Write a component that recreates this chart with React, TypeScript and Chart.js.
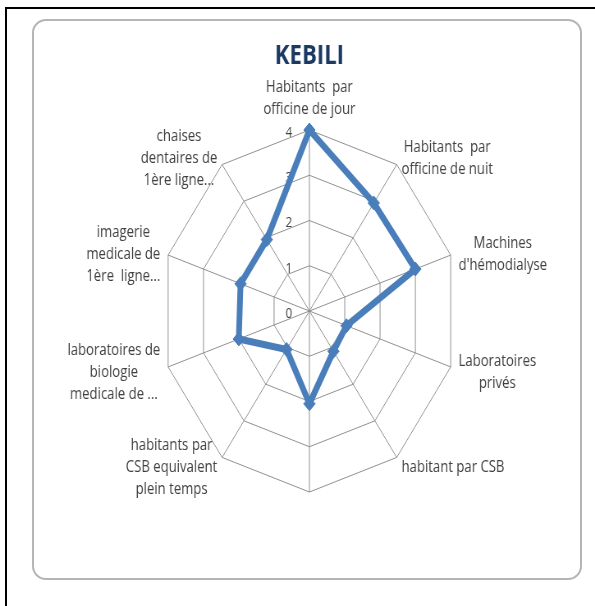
import React, { useEffect, useRef } from "react";
import { Chart, registerables } from "chart.js";
Chart.register(...registerables);

const categories: (string | string[])[] = [
  ["Habitants  par", "officine de jour"],
  ["Habitants  par", "officine de nuit"],
  ["Machines", "d'hémodialyse"],
  ["Laboratoires", "privés"],
  "habitant par CSB",
  "",
  ["habitants par", "CSB equivalent", "plein temps"],
  ["laboratoires de", "biologie", "medicale de ..."],
  ["imagerie", "medicale de", "1ère  ligne..."],
  ["chaises", "dentaires de", "1ère ligne..."],
];
const values: number[] = [4, 2.95, 3.0, 1.05, 1.1, 2.05, 1.05, 2.0, 1.95, 1.95];
const tickValues: number[] = [0, 1, 2, 3, 4];
const title = "KEBILI";

const FONT = "'Open Sans', sans-serif";
const SX = 0.8207; // horizontal squeeze of the reference picture
const W = 725;
const H = 606;
const LABEL_SIZE = 16;
const LINE_H = 22;

const tickLabelPlugin = {
  id: "tickLabelPlugin",
  beforeDatasetsDraw(chart: any) {
    const s = chart.scales.r;
    const ctx = chart.ctx;
    ctx.save();
    ctx.font = `14px ${FONT}`;
    ctx.fillStyle = "#404040";
    ctx.textAlign = "center";
    ctx.textBaseline = "middle";
    tickValues.forEach((v) => {
      const d = s.getDistanceFromCenterForValue(v);
      ctx.fillText(String(v), s.xCenter - 25, s.yCenter - d + 3);
    });
    ctx.restore();
  },
};

const pointLabelPlugin = {
  id: "pointLabelPlugin",
  afterDatasetsDraw(chart: any) {
    const s = chart.scales.r;
    const ctx = chart.ctx;
    ctx.save();
    ctx.font = `${LABEL_SIZE}px ${FONT}`;
    ctx.fillStyle = "#404040";
    ctx.textBaseline = "middle";
    ctx.textAlign = "center";
    const n = categories.length;
    categories.forEach((lab, i) => {
      const lines = Array.isArray(lab) ? lab : [lab];
      if (!lines.join("")) return;
      const p = s.getPointPosition(i, s.drawingArea + 10);
      const deg = Math.round((360 * i) / n) % 360;
      const bw = Math.max(...lines.map((l) => ctx.measureText(l).width));
      const h = lines.length * LINE_H;
      let cx: number, cy: number;
      if (deg === 0) {
        cx = p.x;
        cy = p.y - h / 2;
      } else if (deg === 180) {
        cx = p.x;
        cy = p.y + h / 2;
      } else if (deg < 180) {
        cx = p.x + bw / 2;
        cy = p.y + 2;
      } else {
        cx = p.x - bw / 2;
        cy = p.y + 2;
      }
      lines.forEach((l, j) => ctx.fillText(l, cx, cy + (j - (lines.length - 1) / 2) * LINE_H));
    });
    ctx.restore();
  },
};

export default function App() {
  const ref = useRef<HTMLCanvasElement>(null);
  useEffect(() => {
    const chart = new Chart(ref.current!, {
      type: "radar",
      data: {
        labels: categories as any,
        datasets: [
          {
            data: values,
            borderColor: "#4A7EBB",
            backgroundColor: "#4A7EBB",
            borderWidth: 7,
            borderJoinStyle: "round",
            pointStyle: "rectRot",
            pointRadius: 7,
            pointBackgroundColor: "#4A7EBB",
            pointBorderColor: "#4A7EBB",
            pointBorderWidth: 1,
            fill: false,
            tension: 0,
          },
        ],
      },
      options: {
        animation: false,
        responsive: false,
        maintainAspectRatio: false,
        devicePixelRatio: 1,
        layout: { padding: { left: 196, right: 167, top: 40, bottom: 114 } },
        plugins: {
          legend: { display: false },
          tooltip: { enabled: false },
          title: {
            display: true,
            text: title,
            color: "#1B3A63",
            font: { family: FONT, size: 27, weight: "bold", lineHeight: 1.2 },
            padding: { top: 0, bottom: 57.6 },
          },
        },
        scales: {
          r: {
            min: 0,
            max: 4,
            startAngle: 0,
            ticks: { display: false, stepSize: 1 },
            grid: { color: "#8f8f8f", lineWidth: 1 },
            angleLines: { color: "#8f8f8f", lineWidth: 1 },
            pointLabels: { display: false },
          },
        },
      },
      plugins: [tickLabelPlugin, pointLabelPlugin],
    });
    return () => chart.destroy();
  }, []);

  return (
    <div style={{ position: "fixed", left: 0, top: 0, width: 595, height: 606, background: "#fff", overflow: "hidden" }}>
      <div style={{ position: "absolute", left: 5, top: 7, width: 600, height: 610, borderLeft: "2px solid #000", borderTop: "2px solid #000" }} />
      <div style={{ position: "absolute", left: 32, top: 19, width: 546, height: 557, border: "2px solid #b5b5b5", borderRadius: 14 }} />
      <div style={{ position: "absolute", left: 0, top: 0, width: W, height: H, transform: `scaleX(${SX})`, transformOrigin: "0 0" }}>
        <canvas ref={ref} width={W} height={H} style={{ display: "block" }} />
      </div>
    </div>
  );
}
